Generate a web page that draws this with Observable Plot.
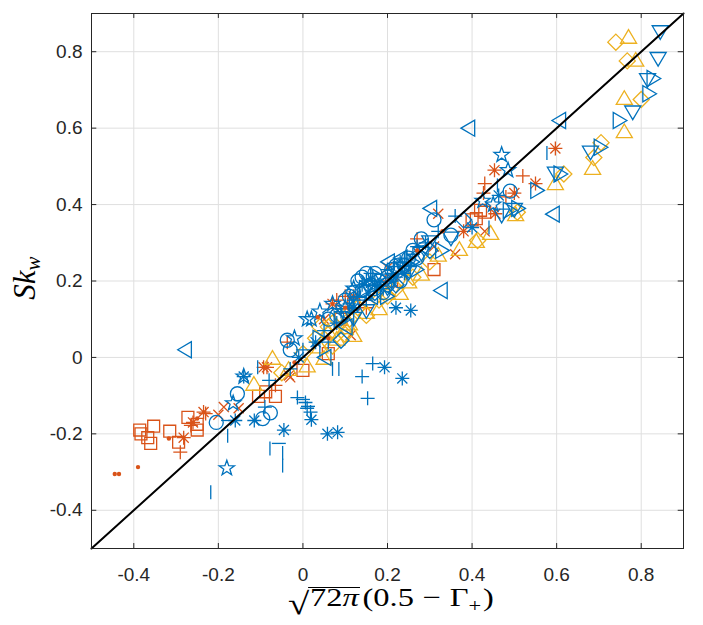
<!DOCTYPE html>
<html>
<head>
<meta charset="utf-8">
<script src="https://cdn.jsdelivr.net/npm/d3@7"></script>
<script src="https://cdn.jsdelivr.net/npm/@observablehq/plot@0.6"></script>
<style>
  html, body { margin: 0; padding: 0; background: #fff; }
</style>
</head>
<body>
<div id="chart"></div>
<script>
// ---------- data (x = sqrt(72π)(0.5 − Γ+), y = Sk_w) ----------
const xTicks = [-0.4, -0.2, 0, 0.2, 0.4, 0.6, 0.8];
const yTicks = [-0.4, -0.2, 0, 0.2, 0.4, 0.6, 0.8];
const xDomain = [-0.5, 0.9];
const yDomain = [-0.5, 0.9];
const identityLine = [-0.5, 0.9];

// blue series
const blueCircle = [[-0.205,-0.17],[-0.155,-0.095],[-0.095,-0.16],[-0.077,-0.145],[-0.037,0.045],[-0.03,0.02],[0.49,0.435],[0.31,0.36],[0.14,0.175],[0.1,0.15],[0.12,0.17],[0.16,0.19],[0.18,0.2],[0.2,0.21],[0.22,0.24],[0.25,0.26],[0.13,0.2],[0.17,0.22],[0.28,0.31],[0.06,0.1],[0.08,0.11],[0.35,0.32],[0.19,0.17],[0.23,0.2],[0.14,0.21],[0.15,0.22],[0.21,0.23],[0.24,0.24],[0.26,0.28],[0.11,0.16],[0.17,0.18],[0.2,0.19],[0.27,0.26]];
const bluePlus = [[0.165,-0.016],[0.14,-0.05],[0.153,-0.107],[-0.013,-0.105],[0.006,-0.118],[0.01,-0.133],[0.018,-0.143],[-0.09,-0.13],[0.05,0.07],[0.09,0.12],[0.13,0.16],[0.17,0.2],[0.2,0.23],[0.24,0.26],[0.27,0.29],[0.32,0.33],[0.36,0.37],[0.06,0.04],[0.11,0.14],[0.19,0.18],[0.22,0.21],[0.15,0.15],[0.0,0.02],[-0.03,-0.03],[-0.08,-0.06],[0.14,0.19],[0.16,0.22],[0.18,0.19],[0.21,0.22],[0.23,0.25],[0.25,0.24],[0.12,0.15],[0.08,0.09],[0.26,0.27],[0.29,0.3]];
const blueStar = [[0.47,0.53],[0.485,0.49],[0.425,0.41],[-0.14,-0.05],[-0.18,-0.29],[-0.165,-0.12],[0.02,0.1],[0.04,0.12],[0.01,0.1],[-0.02,0.05],[0.07,0.14],[0.45,0.4],[0.12,0.18],[0.1,0.13]];
const blueAsterisk = [[0.193,-0.026],[0.235,-0.055],[0.02,-0.163],[0.058,-0.2],[0.082,-0.196],[-0.045,-0.19],[-0.115,-0.165],[-0.16,-0.165],[-0.14,-0.05],[0.22,0.13],[0.255,0.123],[0.463,0.424],[0.4,0.34],[0.15,0.2],[0.03,0.04],[-0.01,0.0],[0.17,0.19],[0.21,0.2],[0.24,0.22],[0.12,0.13]];
const blueVLine = [[0.07,-0.03],[0.085,-0.03],[-0.218,-0.353],[-0.178,-0.205],[-0.078,-0.238],[-0.048,-0.283],[-0.048,-0.25],[-0.107,-0.026],[0.577,0.535],[0.44,0.34],[0.46,0.45],[0.04,0.02],[0.12,0.1]];
const blueHLine = [[-0.057,-0.225],[-0.177,-0.165],[0.0,-0.11],[0.012,-0.128]];
const blueLeft = [[-0.28,0.02],[0.39,0.6],[0.605,0.62],[0.59,0.375],[0.325,0.175],[0.30,0.39],[0.2,0.25],[0.1,0.08],[0.05,0.0],[0.16,0.16],[0.23,0.26],[0.28,0.29]];
const blueDown = [[0.845,0.85],[0.84,0.78],[0.815,0.725],[0.78,0.64],[0.68,0.535],[0.597,0.48],[0.50,0.385],[0.47,0.37],[0.3,0.3],[0.35,0.31],[0.25,0.22],[0.15,0.12],[0.12,0.1],[0.2,0.18],[0.16,0.17],[0.19,0.2],[0.22,0.22],[0.24,0.23],[0.28,0.27],[0.13,0.14],[0.1,0.11]];
const blueRight = [[0.83,0.73],[0.82,0.69],[0.75,0.62],[0.705,0.55],[0.61,0.48],[0.555,0.437],[0.49,0.385],[0.51,0.39],[0.27,0.23],[0.2,0.16],[0.33,0.28],[0.04,0.05],[0.15,0.18],[0.18,0.21],[0.23,0.23],[0.26,0.25],[0.09,0.1]];
const blueDiamond = [[0.09,0.045],[0.17,0.17],[0.22,0.19],[0.3,0.28],[0.38,0.36]];

// orange-red series
const orangeSquare = [[-0.383,-0.2],[-0.386,-0.19],[-0.367,-0.21],[-0.36,-0.225],[-0.353,-0.18],[-0.315,-0.193],[-0.272,-0.157],[-0.25,-0.19],[-0.294,-0.222],[-0.25,-0.175],[-0.105,-0.102],[-0.065,-0.102],[-0.088,-0.09],[0.0,-0.034],[0.06,0.01],[0.42,0.385],[0.41,0.363],[0.43,0.38],[0.40,0.36],[0.31,0.23],[0.21,0.2],[0.12,0.14],[0.09,0.1]];
const orangePlus = [[-0.29,-0.248],[-0.23,-0.147],[-0.265,-0.178],[-0.037,0.04],[-0.065,-0.073],[0.52,0.475],[0.43,0.455],[0.48,0.42],[0.427,0.43],[0.08,0.15],[0.1,0.16],[0.27,0.31],[0.2,0.2],[0.15,0.13]];
const orangeAsterisk = [[-0.235,-0.143],[-0.26,-0.17],[-0.282,-0.21],[-0.093,-0.026],[0.597,0.547],[0.55,0.455],[0.453,0.49],[0.50,0.43],[0.455,0.376],[-0.085,-0.026],[0.07,0.14],[0.38,0.33],[0.12,0.16]];
const orangeTimes = [[-0.187,-0.13],[-0.152,-0.133],[-0.03,-0.052],[0.32,0.376],[0.2,0.235],[-0.033,-0.047],[0.113,0.058],[0.31,0.29],[-0.2,-0.15],[0.05,0.1],[0.43,0.33],[0.36,0.27]];
const orangeDot = [[-0.445,-0.305],[-0.435,-0.305],[-0.39,-0.287],[-0.317,-0.212],[-0.02,-0.013],[0.035,0.105],[0.33,0.33],[0.1,0.13],[0.06,0.05],[0.27,0.28],[-0.25,-0.16]];

// yellow series
const yellowUp = [[0.77,0.84],[0.787,0.78],[0.76,0.68],[0.76,0.593],[0.685,0.497],[0.597,0.457],[0.503,0.376],[0.444,0.327],[0.41,0.306],[0.37,0.285],[-0.116,-0.068],[-0.072,0.0],[-0.034,-0.029],[0.01,-0.02],[0.06,0.07],[0.1,0.08],[0.15,0.12],[0.2,0.17],[0.05,0.0],[0.12,0.06],[0.25,0.2],[0.32,0.27],[0.08,0.05],[0.04,0.03],[0.11,0.09],[0.18,0.13],[0.23,0.17],[0.28,0.22]];
const yellowDiamond = [[0.74,0.825],[0.767,0.776],[0.80,0.675],[0.705,0.562],[0.688,0.523],[0.617,0.48],[0.507,0.38],[0.413,0.306],[0.07,0.09],[0.09,0.11],[0.11,0.1],[0.08,0.06],[0.04,0.08],[0.13,0.13],[0.18,0.15],[0.22,0.18],[0.0,0.01],[-0.05,-0.04],[0.3,0.25],[0.06,0.08],[0.1,0.06],[0.03,0.05],[0.15,0.11],[0.2,0.16],[0.26,0.21],[0.07,0.03]];

// ---------- styling ----------
const BLUE = "#0072BD", ORANGE = "#D95319", YELLOW = "#EDB120";
const AXIS = "#262626", GRID = "#dfdfdf";

const S = f => ({draw(c, size) { f(c, Math.sqrt(size / Math.PI)); }});
const sym = {
  circle: S((c, r) => { c.moveTo(r, 0); c.arc(0, 0, r, 0, 2 * Math.PI); }),
  plus: S((c, r) => { c.moveTo(-r, 0); c.lineTo(r, 0); c.moveTo(0, -r); c.lineTo(0, r); }),
  times: S((c, r) => { const a = r * 0.72; c.moveTo(-a, -a); c.lineTo(a, a); c.moveTo(-a, a); c.lineTo(a, -a); }),
  asterisk: S((c, r) => { const a = r * 0.72; c.moveTo(-r, 0); c.lineTo(r, 0); c.moveTo(0, -r); c.lineTo(0, r); c.moveTo(-a, -a); c.lineTo(a, a); c.moveTo(-a, a); c.lineTo(a, -a); }),
  square: S((c, r) => { const a = r * 0.85; c.moveTo(-a, -a); c.lineTo(a, -a); c.lineTo(a, a); c.lineTo(-a, a); c.closePath(); }),
  diamond: S((c, r) => { const a = r * 1.15; c.moveTo(0, -a); c.lineTo(a, 0); c.lineTo(0, a); c.lineTo(-a, 0); c.closePath(); }),
  up: S((c, r) => { const a = r * 1.15, h = a * 0.85; c.moveTo(0, -h); c.lineTo(a, h); c.lineTo(-a, h); c.closePath(); }),
  down: S((c, r) => { const a = r * 1.15, h = a * 0.85; c.moveTo(0, h); c.lineTo(a, -h); c.lineTo(-a, -h); c.closePath(); }),
  left: S((c, r) => { const a = r * 1.15, h = a * 0.85; c.moveTo(-h, 0); c.lineTo(h, -a); c.lineTo(h, a); c.closePath(); }),
  right: S((c, r) => { const a = r * 1.15, h = a * 0.85; c.moveTo(h, 0); c.lineTo(-h, -a); c.lineTo(-h, a); c.closePath(); }),
  star: S((c, r) => { const R = r * 1.15, q = R * 0.4; for (let i = 0; i < 10; i++) { const ang = -Math.PI / 2 + i * Math.PI / 5, rr = i % 2 ? q : R; const px = rr * Math.cos(ang), py = rr * Math.sin(ang); i ? c.lineTo(px, py) : c.moveTo(px, py); } c.closePath(); }),
  vline: S((c, r) => { c.moveTo(0, -r); c.lineTo(0, r); }),
  hline: S((c, r) => { c.moveTo(-r, 0); c.lineTo(r, 0); })
};

const series = [
  [orangeSquare, sym.square, ORANGE],
  [orangePlus, sym.plus, ORANGE],
  [orangeAsterisk, sym.asterisk, ORANGE],
  [orangeTimes, sym.times, ORANGE],
  [yellowUp, sym.up, YELLOW],
  [yellowDiamond, sym.diamond, YELLOW],
  [blueCircle, sym.circle, BLUE],
  [bluePlus, sym.plus, BLUE],
  [blueStar, sym.star, BLUE],
  [blueAsterisk, sym.asterisk, BLUE],
  [blueVLine, sym.vline, BLUE],
  [blueHLine, sym.hline, BLUE],
  [blueLeft, sym.left, BLUE],
  [blueDown, sym.down, BLUE],
  [blueRight, sym.right, BLUE],
  [blueDiamond, sym.diamond, BLUE]
];

const tickLenX = 0.0125; // inward tick length in x units (~5px)
const tickLenY = 0.013;  // inward tick length in y units (~5px)

const chart = Plot.plot({
  width: 703,
  height: 625,
  marginLeft: 91,
  marginRight: 20,
  marginTop: 13,
  marginBottom: 77,
  style: {fontFamily: "'Liberation Sans', Arial, sans-serif", fontSize: "19px", color: AXIS, background: "#fff"},
  x: {domain: xDomain, ticks: xTicks, tickSize: 0, tickPadding: 19, tickFormat: d => String(d), label: null},
  y: {domain: yDomain, ticks: yTicks, tickSize: 0, tickPadding: 9, tickFormat: d => String(d), label: null},
  marks: [
    Plot.ruleX(xTicks, {stroke: GRID, strokeWidth: 1}),
    Plot.ruleY(yTicks, {stroke: GRID, strokeWidth: 1}),
    ...series.map(([data, symbol, color]) =>
      Plot.dot(data, {x: d => d[0], y: d => d[1], symbol, r: 7, stroke: color, fill: "none", strokeWidth: 1.3})),
    Plot.dot(orangeDot, {x: d => d[0], y: d => d[1], r: 2.2, fill: ORANGE, stroke: "none"}),
    Plot.line(identityLine, {x: d => d, y: d => d, stroke: "#000", strokeWidth: 2}),
    Plot.ruleX(xTicks, {y1: yDomain[0], y2: yDomain[0] + tickLenY, stroke: AXIS}),
    Plot.ruleX(xTicks, {y1: yDomain[1] - tickLenY, y2: yDomain[1], stroke: AXIS}),
    Plot.ruleY(yTicks, {x1: xDomain[0], x2: xDomain[0] + tickLenX, stroke: AXIS}),
    Plot.ruleY(yTicks, {x1: xDomain[1] - tickLenX, x2: xDomain[1], stroke: AXIS}),
    Plot.frame({stroke: AXIS, strokeWidth: 1})
  ]
});
document.getElementById("chart").appendChild(chart);

// ---------- math-style axis labels ----------
const svg = d3.select(chart);
const serif = "'Liberation Serif', 'DejaVu Serif', serif";
const base = 606;
// x label, slightly widened to match the LaTeX (Computer Modern) proportions
const xg = svg.append("g").attr("transform", `translate(391,${base}) scale(1.25,1)`);
const xl = xg.append("text")
  .attr("x", 0).attr("y", 0)
  .attr("text-anchor", "middle")
  .attr("font-family", serif).attr("font-size", 26).attr("fill", "#000");
xl.append("tspan").attr("font-size", 31).attr("dy", 8).text("√");
xl.append("tspan").attr("dy", -8).attr("dx", 0.5).text("72");
xl.append("tspan").attr("font-style", "italic").text("π");
xl.append("tspan").attr("dx", 3).text("(0.5");
xl.append("tspan").attr("dx", 7).text("−");
xl.append("tspan").attr("dx", 7).text("Γ");
xl.append("tspan").attr("font-size", 18).attr("dy", 6).text("+");
xl.append("tspan").attr("dy", -6).attr("dx", 1.5).text(")");
// vinculum of the square root over "72π"
const xn = xl.node();
const vx1 = xn.getStartPositionOfChar(1).x - 1.5;
const vx2 = xn.getEndPositionOfChar(3).x + 1;
xg.append("line")
  .attr("x1", vx1).attr("x2", vx2)
  .attr("y1", -18.5).attr("y2", -18.5)
  .attr("stroke", "#000").attr("stroke-width", 1.2);

const yl = svg.append("text")
  .attr("transform", "translate(35,278) rotate(-90)")
  .attr("text-anchor", "middle")
  .attr("font-family", serif).attr("font-size", 31).attr("fill", "#000");
yl.append("tspan").attr("font-style", "italic").text("Sk");
yl.append("tspan").attr("font-style", "italic").attr("font-size", 21).attr("dy", 5).text("w");
</script>
</body>
</html>
